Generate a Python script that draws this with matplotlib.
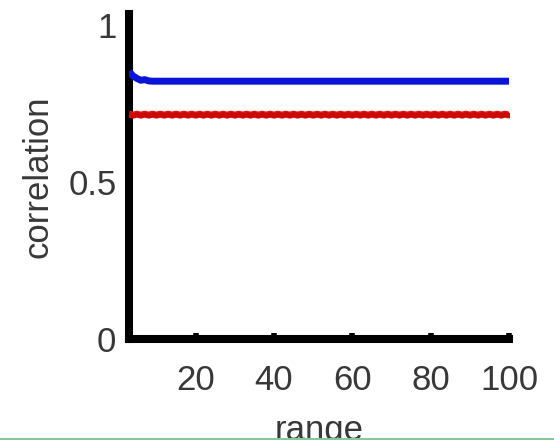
import matplotlib
matplotlib.use("Agg")
import matplotlib.pyplot as plt
from matplotlib.patches import Rectangle

# ---- data ----
ranges = list(range(3, 101))
blue_corr = [0.852, 0.838, 0.830, 0.824, 0.826, 0.822] + [0.821] * 92
red_corr = [0.716, 0.713] * 49
x_ticks = [20, 40, 60, 80, 100]
x_tick_labels = ["20", "40", "60", "80", "100"]
y_ticks = [0, 0.5, 1]
y_tick_labels = ["0", "0.5", "1"]

plt.rcParams["font.family"] = ["Liberation Sans", "DejaVu Sans"]
TXT = "#383838"

fig = plt.figure(figsize=(5.54, 4.40), dpi=100)
fig.patch.set_facecolor("white")
W, H = 554, 440
left, right, bottom, top = 129, 509, 339, 14
ax = fig.add_axes([left / W, (H - bottom) / H, (right - left) / W, (bottom - top) / H])

ax.plot(ranges, red_corr, color="#ee1111", lw=5.0, marker=".", ms=6,
        mfc="#c80a0a", mec="#c80a0a", solid_capstyle="butt", zorder=3)
ax.plot(ranges, blue_corr, color="#0a14d8", lw=5.0, solid_capstyle="butt", zorder=4)

ax.set_xlim(3, 100)
ax.set_ylim(0, 1.035)
ax.set_xticks(x_ticks)
ax.set_xticklabels(x_tick_labels)
ax.set_yticks(y_ticks)
ax.set_yticklabels(y_tick_labels)

for s in ["top", "right"]:
    ax.spines[s].set_visible(False)
for s in ["left", "bottom"]:
    ax.spines[s].set_linewidth(5.8)
    ax.spines[s].set_color("black")
    ax.spines[s].set_capstyle("projecting")

ax.tick_params(axis="x", direction="in", length=4, width=4, color="black",
               labelsize=25, labelcolor=TXT, pad=18)
ax.tick_params(axis="y", direction="in", length=0, width=4, color="black",
               labelsize=25, labelcolor=TXT, pad=9)

ax.set_xlabel("range", fontsize=25, color=TXT, labelpad=12)
ax.set_ylabel("correlation", fontsize=25, color=TXT, labelpad=10)

# thin green strip at the very bottom of the image
fig.patches.append(Rectangle((0, 0), 1, 2.5 / H, transform=fig.transFigure,
                             facecolor="#82c99c", edgecolor="none", zorder=10))

fig.savefig("out.png", dpi=100, facecolor="white")
